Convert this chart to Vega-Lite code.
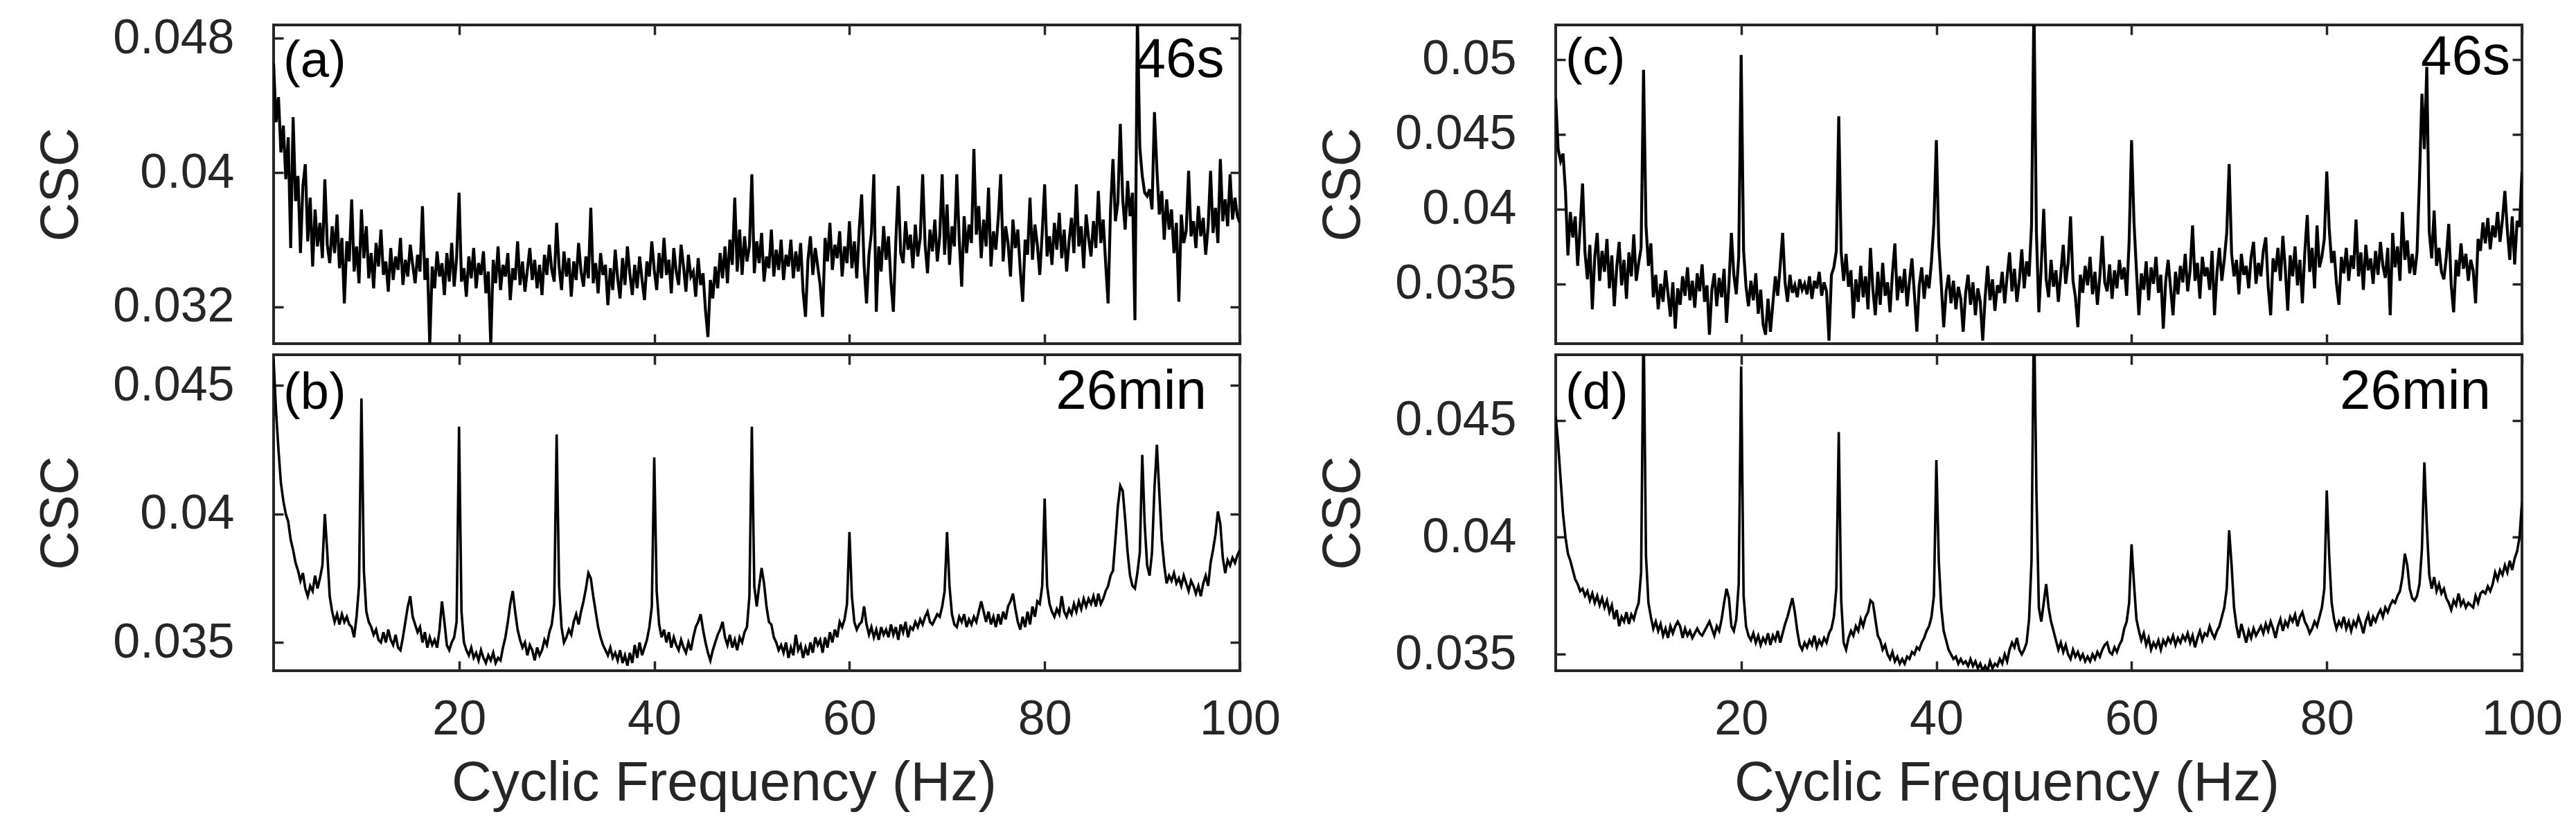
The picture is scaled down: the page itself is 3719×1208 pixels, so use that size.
{
"$schema":"https://vega.github.io/schema/vega-lite/v6.json",
"padding":{"left":47,"top":18,"right":40,"bottom":30},
"background":"white",
"data":{"values":[
{"f":1,"a":0.0465,"b":0.0460,"c":0.0474,"d":0.0452},
{"f":1.25,"a":0.0430,"b":0.0440,"c":0.0440,"d":0.0440},
{"f":1.5,"a":0.0445,"b":0.0425,"c":0.0432,"d":0.0425},
{"f":1.75,"a":0.0412,"b":0.0412,"c":0.0437,"d":0.0410},
{"f":2,"a":0.0428,"b":0.0405,"c":0.0412,"d":0.0400},
{"f":2.25,"a":0.0396,"b":0.0400,"c":0.0369,"d":0.0393},
{"f":2.5,"a":0.0421,"b":0.0397,"c":0.0398,"d":0.0390},
{"f":2.75,"a":0.0355,"b":0.0390,"c":0.0381,"d":0.0386},
{"f":3,"a":0.0433,"b":0.0386,"c":0.0395,"d":0.0382},
{"f":3.25,"a":0.0383,"b":0.0381,"c":0.0362,"d":0.0380},
{"f":3.5,"a":0.0398,"b":0.0378,"c":0.0388,"d":0.0377},
{"f":3.75,"a":0.0352,"b":0.0374,"c":0.0417,"d":0.0378},
{"f":4,"a":0.0392,"b":0.0377,"c":0.0371,"d":0.0375},
{"f":4.25,"a":0.0405,"b":0.0371,"c":0.0353,"d":0.0377},
{"f":4.5,"a":0.0359,"b":0.0368,"c":0.0376,"d":0.0373},
{"f":4.75,"a":0.0385,"b":0.0372,"c":0.0333,"d":0.0376},
{"f":5,"a":0.0344,"b":0.0370,"c":0.0368,"d":0.0372},
{"f":5.25,"a":0.0378,"b":0.0376,"c":0.0384,"d":0.0375},
{"f":5.5,"a":0.0356,"b":0.0371,"c":0.0352,"d":0.0371},
{"f":5.75,"a":0.0370,"b":0.0375,"c":0.0372,"d":0.0374},
{"f":6,"a":0.0349,"b":0.0380,"c":0.0358,"d":0.0370},
{"f":6.25,"a":0.0396,"b":0.0400,"c":0.0380,"d":0.0373},
{"f":6.5,"a":0.0357,"b":0.0385,"c":0.0347,"d":0.0368},
{"f":6.75,"a":0.0346,"b":0.0368,"c":0.0369,"d":0.0371},
{"f":7,"a":0.0368,"b":0.0362,"c":0.0335,"d":0.0365},
{"f":7.25,"a":0.0352,"b":0.0358,"c":0.0361,"d":0.0369},
{"f":7.5,"a":0.0375,"b":0.0361,"c":0.0378,"d":0.0362},
{"f":7.75,"a":0.0343,"b":0.0357,"c":0.0349,"d":0.0366},
{"f":8,"a":0.0361,"b":0.0361,"c":0.0366,"d":0.0364},
{"f":8.25,"a":0.0322,"b":0.0358,"c":0.0340,"d":0.0368},
{"f":8.5,"a":0.0359,"b":0.0360,"c":0.0371,"d":0.0363},
{"f":8.75,"a":0.0347,"b":0.0357,"c":0.0355,"d":0.0367},
{"f":9,"a":0.0384,"b":0.0356,"c":0.0383,"d":0.0365},
{"f":9.25,"a":0.0341,"b":0.0352,"c":0.0352,"d":0.0369},
{"f":9.5,"a":0.0356,"b":0.0360,"c":0.0364,"d":0.0372},
{"f":9.75,"a":0.0334,"b":0.0372,"c":0.0374,"d":0.0385},
{"f":10,"a":0.0378,"b":0.0445,"c":0.0493,"d":0.0495},
{"f":10.25,"a":0.0349,"b":0.0378,"c":0.0389,"d":0.0392},
{"f":10.5,"a":0.0368,"b":0.0362,"c":0.0362,"d":0.0372},
{"f":10.75,"a":0.0337,"b":0.0358,"c":0.0377,"d":0.0366},
{"f":11,"a":0.0352,"b":0.0356,"c":0.0341,"d":0.0361},
{"f":11.25,"a":0.0331,"b":0.0353,"c":0.0356,"d":0.0364},
{"f":11.5,"a":0.0358,"b":0.0355,"c":0.0333,"d":0.0360},
{"f":11.75,"a":0.0344,"b":0.0351,"c":0.0350,"d":0.0363},
{"f":12,"a":0.0366,"b":0.0350,"c":0.0338,"d":0.0358},
{"f":12.25,"a":0.0339,"b":0.0354,"c":0.0359,"d":0.0361},
{"f":12.5,"a":0.0347,"b":0.0350,"c":0.0344,"d":0.0357},
{"f":12.75,"a":0.0329,"b":0.0355,"c":0.0328,"d":0.0362},
{"f":13,"a":0.0355,"b":0.0351,"c":0.0351,"d":0.0359},
{"f":13.25,"a":0.0336,"b":0.0349,"c":0.0320,"d":0.0362},
{"f":13.5,"a":0.0350,"b":0.0353,"c":0.0347,"d":0.0364},
{"f":13.75,"a":0.0342,"b":0.0348,"c":0.0336,"d":0.0362},
{"f":14,"a":0.0361,"b":0.0347,"c":0.0355,"d":0.0357},
{"f":14.25,"a":0.0333,"b":0.0352,"c":0.0342,"d":0.0361},
{"f":14.5,"a":0.0348,"b":0.0358,"c":0.0361,"d":0.0358},
{"f":14.75,"a":0.0338,"b":0.0364,"c":0.0339,"d":0.0360},
{"f":15,"a":0.0357,"b":0.0368,"c":0.0352,"d":0.0357},
{"f":15.25,"a":0.0345,"b":0.0360,"c":0.0334,"d":0.0359},
{"f":15.5,"a":0.0334,"b":0.0357,"c":0.0357,"d":0.0361},
{"f":15.75,"a":0.0351,"b":0.0354,"c":0.0345,"d":0.0359},
{"f":16,"a":0.0341,"b":0.0356,"c":0.0363,"d":0.0358},
{"f":16.25,"a":0.0380,"b":0.0350,"c":0.0338,"d":0.0360},
{"f":16.5,"a":0.0336,"b":0.0354,"c":0.0349,"d":0.0362},
{"f":16.75,"a":0.0349,"b":0.0348,"c":0.0316,"d":0.0364},
{"f":17,"a":0.0297,"b":0.0352,"c":0.0346,"d":0.0361},
{"f":17.25,"a":0.0344,"b":0.0349,"c":0.0357,"d":0.0358},
{"f":17.5,"a":0.0331,"b":0.0351,"c":0.0335,"d":0.0362},
{"f":17.75,"a":0.0353,"b":0.0348,"c":0.0354,"d":0.0360},
{"f":18,"a":0.0338,"b":0.0355,"c":0.0341,"d":0.0365},
{"f":18.25,"a":0.0346,"b":0.0366,"c":0.0360,"d":0.0372},
{"f":18.5,"a":0.0327,"b":0.0358,"c":0.0324,"d":0.0378},
{"f":18.75,"a":0.0352,"b":0.0349,"c":0.0350,"d":0.0374},
{"f":19,"a":0.0335,"b":0.0347,"c":0.0384,"d":0.0362},
{"f":19.25,"a":0.0358,"b":0.0350,"c":0.0356,"d":0.0360},
{"f":19.5,"a":0.0332,"b":0.0352,"c":0.0343,"d":0.0365},
{"f":19.75,"a":0.0349,"b":0.0358,"c":0.0368,"d":0.0380},
{"f":20,"a":0.0388,"b":0.0434,"c":0.0503,"d":0.0473},
{"f":20.25,"a":0.0335,"b":0.0362,"c":0.0372,"d":0.0375},
{"f":20.5,"a":0.0343,"b":0.0350,"c":0.0348,"d":0.0362},
{"f":20.75,"a":0.0326,"b":0.0347,"c":0.0335,"d":0.0358},
{"f":21,"a":0.0350,"b":0.0345,"c":0.0352,"d":0.0356},
{"f":21.25,"a":0.0337,"b":0.0348,"c":0.0339,"d":0.0359},
{"f":21.5,"a":0.0355,"b":0.0344,"c":0.0357,"d":0.0355},
{"f":21.75,"a":0.0331,"b":0.0346,"c":0.0330,"d":0.0358},
{"f":22,"a":0.0346,"b":0.0343,"c":0.0346,"d":0.0354},
{"f":22.25,"a":0.0339,"b":0.0347,"c":0.0323,"d":0.0357},
{"f":22.5,"a":0.0353,"b":0.0344,"c":0.0316,"d":0.0355},
{"f":22.75,"a":0.0328,"b":0.0342,"c":0.0340,"d":0.0359},
{"f":23,"a":0.0341,"b":0.0345,"c":0.0318,"d":0.0354},
{"f":23.25,"a":0.0297,"b":0.0343,"c":0.0337,"d":0.0358},
{"f":23.5,"a":0.0348,"b":0.0346,"c":0.0355,"d":0.0356},
{"f":23.75,"a":0.0334,"b":0.0342,"c":0.0342,"d":0.0360},
{"f":24,"a":0.0356,"b":0.0344,"c":0.0362,"d":0.0355},
{"f":24.25,"a":0.0330,"b":0.0343,"c":0.0384,"d":0.0359},
{"f":24.5,"a":0.0345,"b":0.0348,"c":0.0351,"d":0.0363},
{"f":24.75,"a":0.0338,"b":0.0352,"c":0.0338,"d":0.0366},
{"f":25,"a":0.0352,"b":0.0358,"c":0.0356,"d":0.0370},
{"f":25.25,"a":0.0324,"b":0.0365,"c":0.0344,"d":0.0374},
{"f":25.5,"a":0.0343,"b":0.0370,"c":0.0349,"d":0.0368},
{"f":25.75,"a":0.0336,"b":0.0362,"c":0.0341,"d":0.0360},
{"f":26,"a":0.0359,"b":0.0355,"c":0.0353,"d":0.0354},
{"f":26.25,"a":0.0333,"b":0.0351,"c":0.0346,"d":0.0352},
{"f":26.5,"a":0.0347,"b":0.0348,"c":0.0350,"d":0.0355},
{"f":26.75,"a":0.0329,"b":0.0350,"c":0.0343,"d":0.0353},
{"f":27,"a":0.0342,"b":0.0345,"c":0.0355,"d":0.0356},
{"f":27.25,"a":0.0355,"b":0.0349,"c":0.0340,"d":0.0354},
{"f":27.5,"a":0.0336,"b":0.0347,"c":0.0352,"d":0.0358},
{"f":27.75,"a":0.0348,"b":0.0343,"c":0.0347,"d":0.0353},
{"f":28,"a":0.0331,"b":0.0348,"c":0.0358,"d":0.0356},
{"f":28.25,"a":0.0345,"b":0.0345,"c":0.0342,"d":0.0354},
{"f":28.5,"a":0.0327,"b":0.0347,"c":0.0351,"d":0.0357},
{"f":28.75,"a":0.0351,"b":0.0351,"c":0.0345,"d":0.0355},
{"f":29,"a":0.0339,"b":0.0349,"c":0.0312,"d":0.0359},
{"f":29.25,"a":0.0357,"b":0.0354,"c":0.0356,"d":0.0361},
{"f":29.5,"a":0.0342,"b":0.0357,"c":0.0361,"d":0.0366},
{"f":29.75,"a":0.0335,"b":0.0365,"c":0.0372,"d":0.0378},
{"f":30,"a":0.0370,"b":0.0431,"c":0.0462,"d":0.0445},
{"f":30.25,"a":0.0344,"b":0.0372,"c":0.0371,"d":0.0373},
{"f":30.5,"a":0.0330,"b":0.0356,"c":0.0352,"d":0.0355},
{"f":30.75,"a":0.0353,"b":0.0350,"c":0.0370,"d":0.0352},
{"f":31,"a":0.0338,"b":0.0352,"c":0.0348,"d":0.0357},
{"f":31.25,"a":0.0349,"b":0.0355,"c":0.0359,"d":0.0360},
{"f":31.5,"a":0.0326,"b":0.0353,"c":0.0327,"d":0.0358},
{"f":31.75,"a":0.0347,"b":0.0358,"c":0.0353,"d":0.0362},
{"f":32,"a":0.0336,"b":0.0361,"c":0.0338,"d":0.0360},
{"f":32.25,"a":0.0358,"b":0.0357,"c":0.0362,"d":0.0365},
{"f":32.5,"a":0.0341,"b":0.0362,"c":0.0341,"d":0.0362},
{"f":32.75,"a":0.0332,"b":0.0366,"c":0.0355,"d":0.0366},
{"f":33,"a":0.0350,"b":0.0371,"c":0.0333,"d":0.0368},
{"f":33.25,"a":0.0337,"b":0.0377,"c":0.0374,"d":0.0373},
{"f":33.5,"a":0.0379,"b":0.0375,"c":0.0346,"d":0.0372},
{"f":33.75,"a":0.0334,"b":0.0368,"c":0.0329,"d":0.0365},
{"f":34,"a":0.0346,"b":0.0362,"c":0.0358,"d":0.0358},
{"f":34.25,"a":0.0328,"b":0.0356,"c":0.0336,"d":0.0356},
{"f":34.5,"a":0.0352,"b":0.0352,"c":0.0364,"d":0.0352},
{"f":34.75,"a":0.0339,"b":0.0349,"c":0.0342,"d":0.0354},
{"f":35,"a":0.0345,"b":0.0347,"c":0.0351,"d":0.0350},
{"f":35.25,"a":0.0321,"b":0.0345,"c":0.0331,"d":0.0348},
{"f":35.5,"a":0.0343,"b":0.0348,"c":0.0357,"d":0.0351},
{"f":35.75,"a":0.0330,"b":0.0344,"c":0.0377,"d":0.0347},
{"f":36,"a":0.0354,"b":0.0346,"c":0.0339,"d":0.0349},
{"f":36.25,"a":0.0337,"b":0.0343,"c":0.0355,"d":0.0346},
{"f":36.5,"a":0.0325,"b":0.0347,"c":0.0344,"d":0.0348},
{"f":36.75,"a":0.0349,"b":0.0342,"c":0.0360,"d":0.0346},
{"f":37,"a":0.0333,"b":0.0345,"c":0.0335,"d":0.0349},
{"f":37.25,"a":0.0356,"b":0.0341,"c":0.0352,"d":0.0348},
{"f":37.5,"a":0.0340,"b":0.0346,"c":0.0367,"d":0.0351},
{"f":37.75,"a":0.0327,"b":0.0342,"c":0.0343,"d":0.0350},
{"f":38,"a":0.0345,"b":0.0349,"c":0.0318,"d":0.0353},
{"f":38.25,"a":0.0331,"b":0.0344,"c":0.0349,"d":0.0352},
{"f":38.5,"a":0.0350,"b":0.0350,"c":0.0361,"d":0.0355},
{"f":38.75,"a":0.0336,"b":0.0345,"c":0.0340,"d":0.0357},
{"f":39,"a":0.0324,"b":0.0348,"c":0.0356,"d":0.0360},
{"f":39.25,"a":0.0347,"b":0.0351,"c":0.0347,"d":0.0362},
{"f":39.5,"a":0.0338,"b":0.0356,"c":0.0365,"d":0.0366},
{"f":39.75,"a":0.0359,"b":0.0364,"c":0.0391,"d":0.0375},
{"f":40,"a":0.0342,"b":0.0422,"c":0.0446,"d":0.0433},
{"f":40.25,"a":0.0330,"b":0.0370,"c":0.0376,"d":0.0390},
{"f":40.5,"a":0.0352,"b":0.0357,"c":0.0350,"d":0.0370},
{"f":40.75,"a":0.0337,"b":0.0352,"c":0.0321,"d":0.0360},
{"f":41,"a":0.0361,"b":0.0355,"c":0.0345,"d":0.0356},
{"f":41.25,"a":0.0339,"b":0.0350,"c":0.0356,"d":0.0352},
{"f":41.5,"a":0.0348,"b":0.0354,"c":0.0337,"d":0.0350},
{"f":41.75,"a":0.0328,"b":0.0348,"c":0.0352,"d":0.0348},
{"f":42,"a":0.0355,"b":0.0352,"c":0.0333,"d":0.0349},
{"f":42.25,"a":0.0341,"b":0.0349,"c":0.0348,"d":0.0346},
{"f":42.5,"a":0.0333,"b":0.0347,"c":0.0340,"d":0.0348},
{"f":42.75,"a":0.0357,"b":0.0351,"c":0.0318,"d":0.0346},
{"f":43,"a":0.0344,"b":0.0348,"c":0.0344,"d":0.0347},
{"f":43.25,"a":0.0329,"b":0.0346,"c":0.0356,"d":0.0345},
{"f":43.5,"a":0.0351,"b":0.0350,"c":0.0336,"d":0.0348},
{"f":43.75,"a":0.0338,"b":0.0347,"c":0.0351,"d":0.0345},
{"f":44,"a":0.0341,"b":0.0352,"c":0.0329,"d":0.0347},
{"f":44.25,"a":0.0326,"b":0.0356,"c":0.0347,"d":0.0344},
{"f":44.5,"a":0.0349,"b":0.0358,"c":0.0338,"d":0.0346},
{"f":44.75,"a":0.0333,"b":0.0361,"c":0.0312,"d":0.0343},
{"f":45,"a":0.0340,"b":0.0355,"c":0.0341,"d":0.0345},
{"f":45.25,"a":0.0318,"b":0.0350,"c":0.0362,"d":0.0343},
{"f":45.5,"a":0.0302,"b":0.0346,"c":0.0339,"d":0.0347},
{"f":45.75,"a":0.0336,"b":0.0343,"c":0.0353,"d":0.0344},
{"f":46,"a":0.0325,"b":0.0347,"c":0.0332,"d":0.0346},
{"f":46.25,"a":0.0344,"b":0.0350,"c":0.0349,"d":0.0345},
{"f":46.5,"a":0.0331,"b":0.0353,"c":0.0344,"d":0.0348},
{"f":46.75,"a":0.0352,"b":0.0355,"c":0.0358,"d":0.0346},
{"f":47,"a":0.0337,"b":0.0358,"c":0.0337,"d":0.0350},
{"f":47.25,"a":0.0356,"b":0.0352,"c":0.0355,"d":0.0347},
{"f":47.5,"a":0.0334,"b":0.0349,"c":0.0371,"d":0.0352},
{"f":47.75,"a":0.0360,"b":0.0353,"c":0.0345,"d":0.0355},
{"f":48,"a":0.0345,"b":0.0348,"c":0.0360,"d":0.0353},
{"f":48.25,"a":0.0385,"b":0.0351,"c":0.0338,"d":0.0357},
{"f":48.5,"a":0.0341,"b":0.0347,"c":0.0352,"d":0.0352},
{"f":48.75,"a":0.0366,"b":0.0352,"c":0.0373,"d":0.0350},
{"f":49,"a":0.0339,"b":0.0350,"c":0.0347,"d":0.0352},
{"f":49.25,"a":0.0362,"b":0.0354,"c":0.0365,"d":0.0355},
{"f":49.5,"a":0.0347,"b":0.0356,"c":0.0355,"d":0.0365},
{"f":49.75,"a":0.0356,"b":0.0368,"c":0.0389,"d":0.0390},
{"f":50,"a":0.0399,"b":0.0434,"c":0.0540,"d":0.0500},
{"f":50.25,"a":0.0340,"b":0.0372,"c":0.0385,"d":0.0420},
{"f":50.5,"a":0.0359,"b":0.0364,"c":0.0331,"d":0.0370},
{"f":50.75,"a":0.0346,"b":0.0372,"c":0.0362,"d":0.0364},
{"f":51,"a":0.0364,"b":0.0379,"c":0.0400,"d":0.0372},
{"f":51.25,"a":0.0335,"b":0.0373,"c":0.0353,"d":0.0380},
{"f":51.5,"a":0.0350,"b":0.0364,"c":0.0341,"d":0.0370},
{"f":51.75,"a":0.0343,"b":0.0358,"c":0.0366,"d":0.0364},
{"f":52,"a":0.0366,"b":0.0357,"c":0.0348,"d":0.0360},
{"f":52.25,"a":0.0338,"b":0.0352,"c":0.0359,"d":0.0356},
{"f":52.5,"a":0.0354,"b":0.0350,"c":0.0338,"d":0.0352},
{"f":52.75,"a":0.0342,"b":0.0347,"c":0.0357,"d":0.0355},
{"f":53,"a":0.0360,"b":0.0349,"c":0.0376,"d":0.0351},
{"f":53.25,"a":0.0336,"b":0.0346,"c":0.0350,"d":0.0354},
{"f":53.5,"a":0.0351,"b":0.0350,"c":0.0364,"d":0.0350},
{"f":53.75,"a":0.0344,"b":0.0344,"c":0.0395,"d":0.0348},
{"f":54,"a":0.0360,"b":0.0348,"c":0.0352,"d":0.0352},
{"f":54.25,"a":0.0337,"b":0.0345,"c":0.0341,"d":0.0349},
{"f":54.5,"a":0.0353,"b":0.0353,"c":0.0321,"d":0.0351},
{"f":54.75,"a":0.0341,"b":0.0347,"c":0.0356,"d":0.0348},
{"f":55,"a":0.0358,"b":0.0349,"c":0.0344,"d":0.0350},
{"f":55.25,"a":0.0329,"b":0.0344,"c":0.0362,"d":0.0347},
{"f":55.5,"a":0.0314,"b":0.0348,"c":0.0349,"d":0.0349},
{"f":55.75,"a":0.0348,"b":0.0345,"c":0.0368,"d":0.0347},
{"f":56,"a":0.0362,"b":0.0350,"c":0.0343,"d":0.0350},
{"f":56.25,"a":0.0339,"b":0.0346,"c":0.0358,"d":0.0348},
{"f":56.5,"a":0.0355,"b":0.0352,"c":0.0336,"d":0.0351},
{"f":56.75,"a":0.0344,"b":0.0349,"c":0.0355,"d":0.0349},
{"f":57,"a":0.0333,"b":0.0351,"c":0.0382,"d":0.0352},
{"f":57.25,"a":0.0314,"b":0.0346,"c":0.0351,"d":0.0354},
{"f":57.5,"a":0.0361,"b":0.0352,"c":0.0345,"d":0.0355},
{"f":57.75,"a":0.0347,"b":0.0348,"c":0.0363,"d":0.0351},
{"f":58,"a":0.0370,"b":0.0354,"c":0.0340,"d":0.0350},
{"f":58.25,"a":0.0342,"b":0.0350,"c":0.0359,"d":0.0353},
{"f":58.5,"a":0.0357,"b":0.0355,"c":0.0347,"d":0.0351},
{"f":58.75,"a":0.0349,"b":0.0352,"c":0.0366,"d":0.0354},
{"f":59,"a":0.0365,"b":0.0358,"c":0.0353,"d":0.0356},
{"f":59.25,"a":0.0338,"b":0.0356,"c":0.0361,"d":0.0361},
{"f":59.5,"a":0.0356,"b":0.0359,"c":0.0342,"d":0.0364},
{"f":59.75,"a":0.0346,"b":0.0365,"c":0.0378,"d":0.0372},
{"f":60,"a":0.0371,"b":0.0393,"c":0.0446,"d":0.0397},
{"f":60.25,"a":0.0343,"b":0.0368,"c":0.0391,"d":0.0380},
{"f":60.5,"a":0.0359,"b":0.0358,"c":0.0359,"d":0.0365},
{"f":60.75,"a":0.0337,"b":0.0355,"c":0.0329,"d":0.0360},
{"f":61,"a":0.0366,"b":0.0357,"c":0.0357,"d":0.0356},
{"f":61.25,"a":0.0387,"b":0.0358,"c":0.0346,"d":0.0359},
{"f":61.5,"a":0.0345,"b":0.0364,"c":0.0365,"d":0.0354},
{"f":61.75,"a":0.0322,"b":0.0357,"c":0.0339,"d":0.0357},
{"f":62,"a":0.0351,"b":0.0353,"c":0.0361,"d":0.0352},
{"f":62.25,"a":0.0364,"b":0.0356,"c":0.0350,"d":0.0355},
{"f":62.5,"a":0.0399,"b":0.0352,"c":0.0368,"d":0.0353},
{"f":62.75,"a":0.0317,"b":0.0355,"c":0.0344,"d":0.0356},
{"f":63,"a":0.0356,"b":0.0351,"c":0.0356,"d":0.0352},
{"f":63.25,"a":0.0341,"b":0.0356,"c":0.0320,"d":0.0356},
{"f":63.5,"a":0.0368,"b":0.0353,"c":0.0352,"d":0.0354},
{"f":63.75,"a":0.0348,"b":0.0355,"c":0.0366,"d":0.0357},
{"f":64,"a":0.0362,"b":0.0352,"c":0.0347,"d":0.0355},
{"f":64.25,"a":0.0335,"b":0.0357,"c":0.0329,"d":0.0358},
{"f":64.5,"a":0.0317,"b":0.0353,"c":0.0358,"d":0.0354},
{"f":64.75,"a":0.0359,"b":0.0356,"c":0.0343,"d":0.0357},
{"f":65,"a":0.0392,"b":0.0351,"c":0.0362,"d":0.0355},
{"f":65.25,"a":0.0352,"b":0.0357,"c":0.0351,"d":0.0358},
{"f":65.5,"a":0.0346,"b":0.0354,"c":0.0370,"d":0.0356},
{"f":65.75,"a":0.0371,"b":0.0358,"c":0.0345,"d":0.0359},
{"f":66,"a":0.0354,"b":0.0352,"c":0.0359,"d":0.0355},
{"f":66.25,"a":0.0363,"b":0.0356,"c":0.0389,"d":0.0358},
{"f":66.5,"a":0.0343,"b":0.0355,"c":0.0352,"d":0.0353},
{"f":66.75,"a":0.0369,"b":0.0358,"c":0.0364,"d":0.0357},
{"f":67,"a":0.0350,"b":0.0356,"c":0.0340,"d":0.0360},
{"f":67.25,"a":0.0361,"b":0.0359,"c":0.0368,"d":0.0356},
{"f":67.5,"a":0.0399,"b":0.0357,"c":0.0355,"d":0.0359},
{"f":67.75,"a":0.0357,"b":0.0360,"c":0.0361,"d":0.0358},
{"f":68,"a":0.0340,"b":0.0362,"c":0.0346,"d":0.0362},
{"f":68.25,"a":0.0366,"b":0.0358,"c":0.0372,"d":0.0359},
{"f":68.5,"a":0.0353,"b":0.0357,"c":0.0329,"d":0.0357},
{"f":68.75,"a":0.0372,"b":0.0359,"c":0.0358,"d":0.0360},
{"f":69,"a":0.0347,"b":0.0361,"c":0.0374,"d":0.0362},
{"f":69.25,"a":0.0362,"b":0.0360,"c":0.0352,"d":0.0366},
{"f":69.5,"a":0.0399,"b":0.0364,"c":0.0366,"d":0.0370},
{"f":69.75,"a":0.0351,"b":0.0370,"c":0.0384,"d":0.0378},
{"f":70,"a":0.0381,"b":0.0393,"c":0.0430,"d":0.0403},
{"f":70.25,"a":0.0345,"b":0.0372,"c":0.0370,"d":0.0388},
{"f":70.5,"a":0.0368,"b":0.0361,"c":0.0355,"d":0.0370},
{"f":70.75,"a":0.0356,"b":0.0357,"c":0.0366,"d":0.0362},
{"f":71,"a":0.0399,"b":0.0356,"c":0.0343,"d":0.0357},
{"f":71.25,"a":0.0360,"b":0.0360,"c":0.0370,"d":0.0363},
{"f":71.5,"a":0.0332,"b":0.0358,"c":0.0356,"d":0.0359},
{"f":71.75,"a":0.0374,"b":0.0361,"c":0.0362,"d":0.0355},
{"f":72,"a":0.0352,"b":0.0356,"c":0.0347,"d":0.0360},
{"f":72.25,"a":0.0369,"b":0.0359,"c":0.0368,"d":0.0357},
{"f":72.5,"a":0.0358,"b":0.0357,"c":0.0378,"d":0.0361},
{"f":72.75,"a":0.0414,"b":0.0360,"c":0.0350,"d":0.0358},
{"f":73,"a":0.0363,"b":0.0358,"c":0.0364,"d":0.0360},
{"f":73.25,"a":0.0380,"b":0.0362,"c":0.0355,"d":0.0362},
{"f":73.5,"a":0.0349,"b":0.0366,"c":0.0372,"d":0.0359},
{"f":73.75,"a":0.0372,"b":0.0362,"c":0.0381,"d":0.0363},
{"f":74,"a":0.0356,"b":0.0358,"c":0.0348,"d":0.0360},
{"f":74.25,"a":0.0391,"b":0.0362,"c":0.0329,"d":0.0364},
{"f":74.5,"a":0.0344,"b":0.0357,"c":0.0367,"d":0.0361},
{"f":74.75,"a":0.0365,"b":0.0360,"c":0.0358,"d":0.0357},
{"f":75,"a":0.0354,"b":0.0356,"c":0.0374,"d":0.0362},
{"f":75.25,"a":0.0373,"b":0.0361,"c":0.0352,"d":0.0365},
{"f":75.5,"a":0.0399,"b":0.0357,"c":0.0382,"d":0.0360},
{"f":75.75,"a":0.0347,"b":0.0362,"c":0.0360,"d":0.0364},
{"f":76,"a":0.0368,"b":0.0359,"c":0.0332,"d":0.0362},
{"f":76.25,"a":0.0358,"b":0.0364,"c":0.0369,"d":0.0366},
{"f":76.5,"a":0.0338,"b":0.0366,"c":0.0355,"d":0.0364},
{"f":76.75,"a":0.0372,"b":0.0369,"c":0.0375,"d":0.0367},
{"f":77,"a":0.0355,"b":0.0363,"c":0.0349,"d":0.0362},
{"f":77.25,"a":0.0366,"b":0.0358,"c":0.0366,"d":0.0366},
{"f":77.5,"a":0.0342,"b":0.0355,"c":0.0337,"d":0.0368},
{"f":77.75,"a":0.0323,"b":0.0360,"c":0.0371,"d":0.0364},
{"f":78,"a":0.0360,"b":0.0356,"c":0.0396,"d":0.0362},
{"f":78.25,"a":0.0351,"b":0.0362,"c":0.0358,"d":0.0359},
{"f":78.5,"a":0.0385,"b":0.0357,"c":0.0374,"d":0.0361},
{"f":78.75,"a":0.0348,"b":0.0364,"c":0.0347,"d":0.0364},
{"f":79,"a":0.0369,"b":0.0360,"c":0.0389,"d":0.0362},
{"f":79.25,"a":0.0357,"b":0.0366,"c":0.0361,"d":0.0366},
{"f":79.5,"a":0.0339,"b":0.0365,"c":0.0368,"d":0.0370},
{"f":79.75,"a":0.0364,"b":0.0372,"c":0.0380,"d":0.0378},
{"f":80,"a":0.0393,"b":0.0406,"c":0.0425,"d":0.0420},
{"f":80.25,"a":0.0350,"b":0.0372,"c":0.0387,"d":0.0392},
{"f":80.5,"a":0.0362,"b":0.0365,"c":0.0364,"d":0.0372},
{"f":80.75,"a":0.0345,"b":0.0362,"c":0.0372,"d":0.0365},
{"f":81,"a":0.0370,"b":0.0360,"c":0.0350,"d":0.0361},
{"f":81.25,"a":0.0354,"b":0.0363,"c":0.0336,"d":0.0364},
{"f":81.5,"a":0.0376,"b":0.0361,"c":0.0368,"d":0.0362},
{"f":81.75,"a":0.0349,"b":0.0368,"c":0.0357,"d":0.0366},
{"f":82,"a":0.0366,"b":0.0362,"c":0.0374,"d":0.0361},
{"f":82.25,"a":0.0341,"b":0.0360,"c":0.0352,"d":0.0364},
{"f":82.5,"a":0.0359,"b":0.0363,"c":0.0369,"d":0.0360},
{"f":82.75,"a":0.0373,"b":0.0361,"c":0.0360,"d":0.0364},
{"f":83,"a":0.0352,"b":0.0365,"c":0.0393,"d":0.0362},
{"f":83.25,"a":0.0393,"b":0.0362,"c":0.0355,"d":0.0366},
{"f":83.5,"a":0.0356,"b":0.0366,"c":0.0371,"d":0.0363},
{"f":83.75,"a":0.0368,"b":0.0363,"c":0.0346,"d":0.0359},
{"f":84,"a":0.0343,"b":0.0367,"c":0.0376,"d":0.0364},
{"f":84.25,"a":0.0375,"b":0.0364,"c":0.0359,"d":0.0367},
{"f":84.5,"a":0.0361,"b":0.0367,"c":0.0367,"d":0.0362},
{"f":84.75,"a":0.0350,"b":0.0365,"c":0.0350,"d":0.0366},
{"f":85,"a":0.0371,"b":0.0368,"c":0.0372,"d":0.0364},
{"f":85.25,"a":0.0355,"b":0.0364,"c":0.0356,"d":0.0367},
{"f":85.5,"a":0.0389,"b":0.0369,"c":0.0378,"d":0.0369},
{"f":85.75,"a":0.0358,"b":0.0365,"c":0.0362,"d":0.0366},
{"f":86,"a":0.0372,"b":0.0367,"c":0.0354,"d":0.0370},
{"f":86.25,"a":0.0346,"b":0.0370,"c":0.0374,"d":0.0368},
{"f":86.5,"a":0.0322,"b":0.0372,"c":0.0329,"d":0.0371},
{"f":86.75,"a":0.0378,"b":0.0376,"c":0.0384,"d":0.0373},
{"f":87,"a":0.0408,"b":0.0378,"c":0.0361,"d":0.0372},
{"f":87.25,"a":0.0371,"b":0.0390,"c":0.0375,"d":0.0375},
{"f":87.5,"a":0.0382,"b":0.0403,"c":0.0352,"d":0.0377},
{"f":87.75,"a":0.0429,"b":0.0411,"c":0.0398,"d":0.0383},
{"f":88,"a":0.0384,"b":0.0409,"c":0.0366,"d":0.0393},
{"f":88.25,"a":0.0366,"b":0.0398,"c":0.0379,"d":0.0388},
{"f":88.5,"a":0.0395,"b":0.0385,"c":0.0357,"d":0.0378},
{"f":88.75,"a":0.0374,"b":0.0376,"c":0.0370,"d":0.0374},
{"f":89,"a":0.0388,"b":0.0372,"c":0.0356,"d":0.0373},
{"f":89.25,"a":0.0312,"b":0.0371,"c":0.0371,"d":0.0375},
{"f":89.5,"a":0.0495,"b":0.0377,"c":0.0420,"d":0.0380},
{"f":89.75,"a":0.0415,"b":0.0385,"c":0.0477,"d":0.0395},
{"f":90,"a":0.0398,"b":0.0423,"c":0.0440,"d":0.0432},
{"f":90.25,"a":0.0388,"b":0.0396,"c":0.0495,"d":0.0405},
{"f":90.5,"a":0.0386,"b":0.0380,"c":0.0385,"d":0.0384},
{"f":90.75,"a":0.0390,"b":0.0376,"c":0.0367,"d":0.0378},
{"f":91,"a":0.0378,"b":0.0385,"c":0.0399,"d":0.0383},
{"f":91.25,"a":0.0436,"b":0.0410,"c":0.0362,"d":0.0377},
{"f":91.5,"a":0.0402,"b":0.0427,"c":0.0374,"d":0.0380},
{"f":91.75,"a":0.0375,"b":0.0408,"c":0.0358,"d":0.0376},
{"f":92,"a":0.0389,"b":0.0390,"c":0.0353,"d":0.0378},
{"f":92.25,"a":0.0360,"b":0.0380,"c":0.0368,"d":0.0374},
{"f":92.5,"a":0.0384,"b":0.0373,"c":0.0390,"d":0.0372},
{"f":92.75,"a":0.0366,"b":0.0376,"c":0.0349,"d":0.0369},
{"f":93,"a":0.0378,"b":0.0374,"c":0.0331,"d":0.0373},
{"f":93.25,"a":0.0352,"b":0.0377,"c":0.0366,"d":0.0371},
{"f":93.5,"a":0.0370,"b":0.0373,"c":0.0355,"d":0.0376},
{"f":93.75,"a":0.0323,"b":0.0375,"c":0.0377,"d":0.0371},
{"f":94,"a":0.0375,"b":0.0372,"c":0.0360,"d":0.0373},
{"f":94.25,"a":0.0358,"b":0.0376,"c":0.0370,"d":0.0370},
{"f":94.5,"a":0.0365,"b":0.0373,"c":0.0352,"d":0.0372},
{"f":94.75,"a":0.0401,"b":0.0370,"c":0.0366,"d":0.0371},
{"f":95,"a":0.0362,"b":0.0374,"c":0.0359,"d":0.0370},
{"f":95.25,"a":0.0371,"b":0.0372,"c":0.0337,"d":0.0375},
{"f":95.5,"a":0.0355,"b":0.0369,"c":0.0380,"d":0.0372},
{"f":95.75,"a":0.0380,"b":0.0372,"c":0.0372,"d":0.0376},
{"f":96,"a":0.0362,"b":0.0368,"c":0.0391,"d":0.0377},
{"f":96.25,"a":0.0373,"b":0.0373,"c":0.0377,"d":0.0376},
{"f":96.5,"a":0.0351,"b":0.0376,"c":0.0394,"d":0.0379},
{"f":96.75,"a":0.0368,"b":0.0372,"c":0.0373,"d":0.0377},
{"f":97,"a":0.0401,"b":0.0381,"c":0.0389,"d":0.0380},
{"f":97.25,"a":0.0364,"b":0.0386,"c":0.0381,"d":0.0385},
{"f":97.5,"a":0.0379,"b":0.0392,"c":0.0398,"d":0.0382},
{"f":97.75,"a":0.0358,"b":0.0401,"c":0.0378,"d":0.0386},
{"f":98,"a":0.0408,"b":0.0396,"c":0.0393,"d":0.0384},
{"f":98.25,"a":0.0371,"b":0.0383,"c":0.0412,"d":0.0388},
{"f":98.5,"a":0.0384,"b":0.0377,"c":0.0386,"d":0.0385},
{"f":98.75,"a":0.0368,"b":0.0382,"c":0.0366,"d":0.0390},
{"f":99,"a":0.0399,"b":0.0380,"c":0.0395,"d":0.0386},
{"f":99.25,"a":0.0372,"b":0.0383,"c":0.0363,"d":0.0391},
{"f":99.5,"a":0.0385,"b":0.0381,"c":0.0392,"d":0.0394},
{"f":99.75,"a":0.0374,"b":0.0384,"c":0.0388,"d":0.0400},
{"f":100,"a":0.0370,"b":0.0386,"c":0.0425,"d":0.0415}
]},
"config":{
"font":"Liberation Sans",
"view":{"stroke":"#262626","strokeWidth":4},
"axis":{"grid":false,"domain":false,"tickColor":"#262626","tickWidth":3.5,"tickSize":-14,"labelColor":"#262626","labelFont":"Liberation Sans","labelFontSize":70,"labelFlush":false,"labelOverlap":false,"titleColor":"#262626","titleFont":"Liberation Sans","titleFontSize":78,"titleFontWeight":"normal","minExtent":0}
},
"columns":2,
"spacing":{"row":8,"column":47},
"concat":[
{"width":1395,"height":460,
"layer":[
{"mark":{"type":"line","color":"black","strokeWidth":4.2,"clip":true},
"encoding":{
"x":{"field":"f","type":"quantitative","scale":{"domain":[1,100],"nice":false,"zero":false},"axis":{"orient":"bottom","values":[20,40,60,80,100],"labels":false,"title":null}},
"y":{"field":"a","type":"quantitative","scale":{"domain":[0.0298,0.0488],"nice":false,"zero":false},"axis":{"orient":"left","values":[0.032,0.04,0.048],"format":"~g","title":"CSC","titleX":-284,"titleBaseline":"alphabetic","labelPadding":71}}}},
{"mark":{"type":"line","strokeOpacity":0,"clip":true},
"encoding":{
"x":{"field":"f","type":"quantitative","axis":{"orient":"top","values":[20,40,60,80,100],"labels":false,"title":null}},
"y":{"field":"a","type":"quantitative","axis":{"orient":"right","values":[0.032,0.04,0.048],"labels":false,"title":null}}}},
{"data":{"values":[{}]},"mark":{"type":"text","align":"left","baseline":"alphabetic","fontSize":74,"color":"black","font":"Liberation Sans"},
"encoding":{"x":{"datum":2,"type":"quantitative","axis":null},"y":{"datum":0.0457,"type":"quantitative","axis":null},"text":{"value":"(a)"}}},
{"data":{"values":[{}]},"mark":{"type":"text","align":"right","baseline":"alphabetic","fontSize":80,"color":"black","font":"Liberation Sans"},
"encoding":{"x":{"datum":98.4,"type":"quantitative","axis":null},"y":{"datum":0.0457,"type":"quantitative","axis":null},"text":{"value":"46s"}}}
],
"resolve":{"axis":{"x":"independent","y":"independent"}}},
{"width":1395,"height":460,
"layer":[
{"mark":{"type":"line","color":"black","strokeWidth":4.2,"clip":true},
"encoding":{
"x":{"field":"f","type":"quantitative","scale":{"domain":[1,100],"nice":false,"zero":false},"axis":{"orient":"bottom","values":[20,40,60,80,100],"labels":false,"title":null}},
"y":{"field":"c","type":"quantitative","scale":{"domain":[0.0310,0.0523],"nice":false,"zero":false},"axis":{"orient":"left","values":[0.035,0.04,0.045,0.05],"format":"~g","title":"CSC","titleX":-284,"titleBaseline":"alphabetic","labelPadding":71}}}},
{"mark":{"type":"line","strokeOpacity":0,"clip":true},
"encoding":{
"x":{"field":"f","type":"quantitative","axis":{"orient":"top","values":[20,40,60,80,100],"labels":false,"title":null}},
"y":{"field":"c","type":"quantitative","axis":{"orient":"right","values":[0.035,0.04,0.045,0.05],"labels":false,"title":null}}}},
{"data":{"values":[{}]},"mark":{"type":"text","align":"left","baseline":"alphabetic","fontSize":74,"color":"black","font":"Liberation Sans"},
"encoding":{"x":{"datum":2,"type":"quantitative","axis":null},"y":{"datum":0.0490,"type":"quantitative","axis":null},"text":{"value":"(c)"}}},
{"data":{"values":[{}]},"mark":{"type":"text","align":"right","baseline":"alphabetic","fontSize":80,"color":"black","font":"Liberation Sans"},
"encoding":{"x":{"datum":98.8,"type":"quantitative","axis":null},"y":{"datum":0.0490,"type":"quantitative","axis":null},"text":{"value":"46s"}}}
],
"resolve":{"axis":{"x":"independent","y":"independent"}}},
{"width":1395,"height":456,
"layer":[
{"mark":{"type":"line","color":"black","strokeWidth":3.6,"clip":true},
"encoding":{
"x":{"field":"f","type":"quantitative","scale":{"domain":[1,100],"nice":false,"zero":false},"axis":{"orient":"bottom","values":[20,40,60,80,100],"labelPadding":50,"title":"Cyclic Frequency (Hz)","titleX":650,"titleY":186,"titleBaseline":"alphabetic","titleFontSize":80}},
"y":{"field":"b","type":"quantitative","scale":{"domain":[0.0339,0.0462],"nice":false,"zero":false},"axis":{"orient":"left","values":[0.035,0.04,0.045],"format":"~g","title":"CSC","titleX":-284,"titleBaseline":"alphabetic","labelPadding":71}}}},
{"mark":{"type":"line","strokeOpacity":0,"clip":true},
"encoding":{
"x":{"field":"f","type":"quantitative","axis":{"orient":"top","values":[20,40,60,80,100],"labels":false,"title":null}},
"y":{"field":"b","type":"quantitative","axis":{"orient":"right","values":[0.035,0.04,0.045],"labels":false,"title":null}}}},
{"data":{"values":[{}]},"mark":{"type":"text","align":"left","baseline":"alphabetic","fontSize":74,"color":"black","font":"Liberation Sans"},
"encoding":{"x":{"datum":2,"type":"quantitative","axis":null},"y":{"datum":0.0441,"type":"quantitative","axis":null},"text":{"value":"(b)"}}},
{"data":{"values":[{}]},"mark":{"type":"text","align":"right","baseline":"alphabetic","fontSize":80,"color":"black","font":"Liberation Sans"},
"encoding":{"x":{"datum":96.6,"type":"quantitative","axis":null},"y":{"datum":0.0441,"type":"quantitative","axis":null},"text":{"value":"26min"}}}
],
"resolve":{"axis":{"x":"independent","y":"independent"}}},
{"width":1395,"height":456,
"layer":[
{"mark":{"type":"line","color":"black","strokeWidth":3.6,"clip":true},
"encoding":{
"x":{"field":"f","type":"quantitative","scale":{"domain":[1,100],"nice":false,"zero":false},"axis":{"orient":"bottom","values":[20,40,60,80,100],"labelPadding":50,"title":"Cyclic Frequency (Hz)","titleX":651,"titleY":186,"titleBaseline":"alphabetic","titleFontSize":80}},
"y":{"field":"d","type":"quantitative","scale":{"domain":[0.0343,0.0478],"nice":false,"zero":false},"axis":{"orient":"left","values":[0.035,0.04,0.045],"format":"~g","title":"CSC","titleX":-284,"titleBaseline":"alphabetic","labelPadding":71}}}},
{"mark":{"type":"line","strokeOpacity":0,"clip":true},
"encoding":{
"x":{"field":"f","type":"quantitative","axis":{"orient":"top","values":[20,40,60,80,100],"labels":false,"title":null}},
"y":{"field":"d","type":"quantitative","axis":{"orient":"right","values":[0.035,0.04,0.045],"labels":false,"title":null}}}},
{"data":{"values":[{}]},"mark":{"type":"text","align":"left","baseline":"alphabetic","fontSize":74,"color":"black","font":"Liberation Sans"},
"encoding":{"x":{"datum":2,"type":"quantitative","axis":null},"y":{"datum":0.0455,"type":"quantitative","axis":null},"text":{"value":"(d)"}}},
{"data":{"values":[{}]},"mark":{"type":"text","align":"right","baseline":"alphabetic","fontSize":80,"color":"black","font":"Liberation Sans"},
"encoding":{"x":{"datum":96.8,"type":"quantitative","axis":null},"y":{"datum":0.0455,"type":"quantitative","axis":null},"text":{"value":"26min"}}}
],
"resolve":{"axis":{"x":"independent","y":"independent"}}}
]
}
